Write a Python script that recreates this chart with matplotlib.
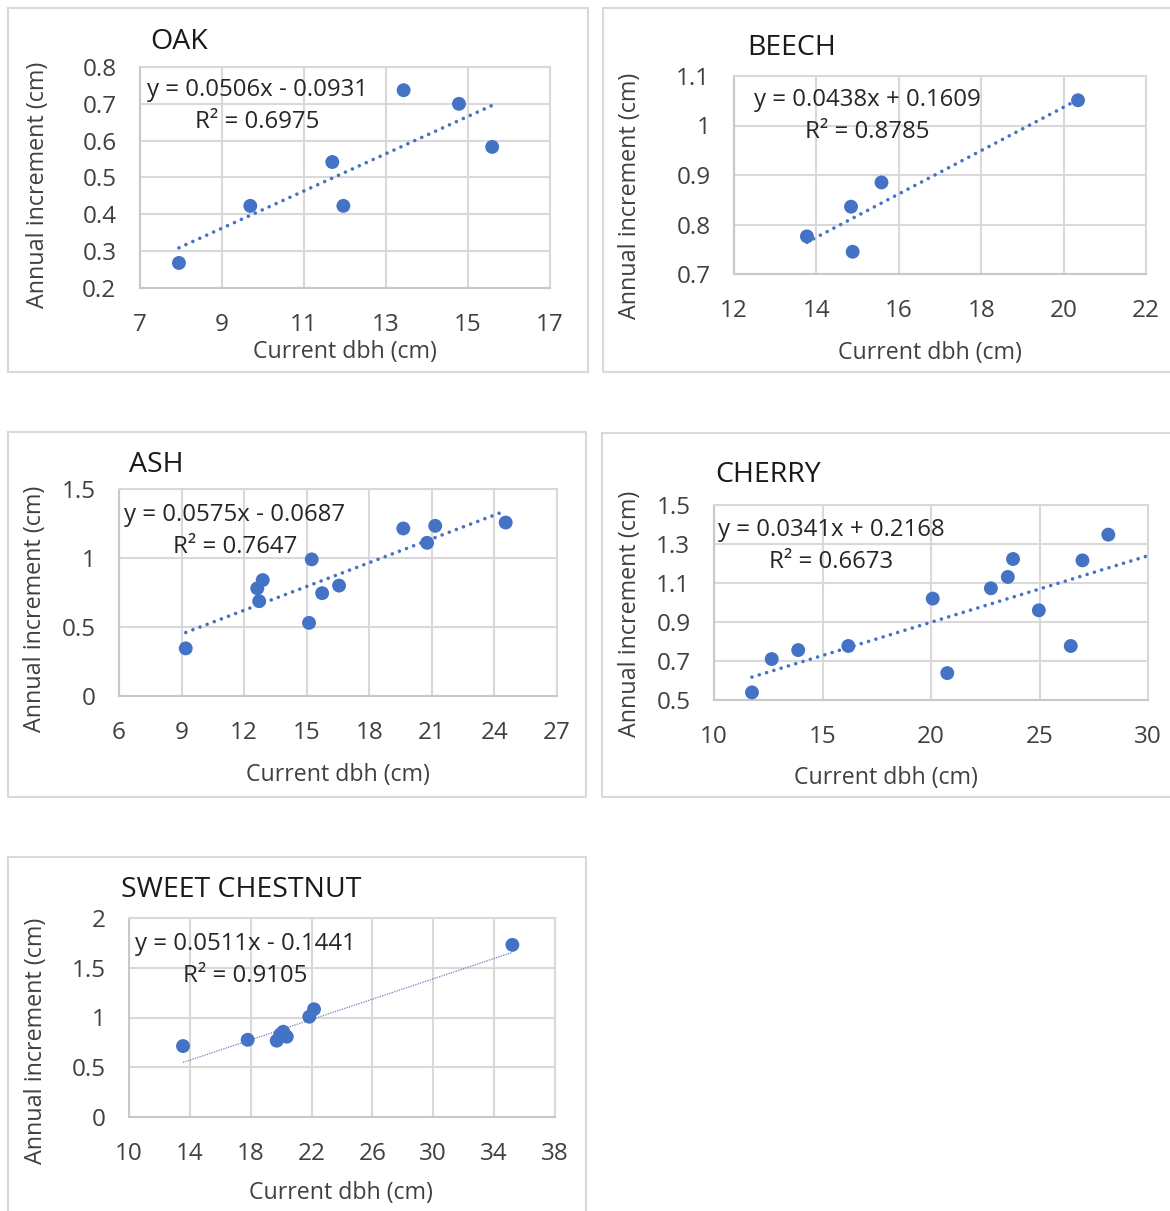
import matplotlib
matplotlib.use('Agg')
import matplotlib.pyplot as plt
from matplotlib.patches import Rectangle
import numpy as np

plt.rcParams['font.family'] = ['Open Sans', 'DejaVu Sans']

# ---------------- data ----------------
species = ['OAK', 'BEECH', 'ASH', 'CHERRY', 'SWEET CHESTNUT']

oak_dbh = [7.95, 9.69, 11.69, 11.96, 13.43, 14.78, 15.59]
oak_inc = [0.268, 0.423, 0.542, 0.423, 0.737, 0.700, 0.583]

beech_dbh = [13.77, 14.84, 14.88, 15.58, 20.35]
beech_inc = [0.776, 0.836, 0.745, 0.885, 1.051]

ash_dbh = [9.20, 12.63, 12.89, 12.72, 15.11, 15.24, 15.74, 16.55, 19.63, 20.77, 21.16, 24.54]
ash_inc = [0.345, 0.780, 0.840, 0.687, 0.530, 0.990, 0.745, 0.800, 1.214, 1.110, 1.233, 1.257]

cherry_dbh = [11.75, 12.66, 13.88, 16.19, 20.08, 20.75, 22.76, 23.54, 23.78, 24.97, 26.44, 26.98, 28.17]
cherry_inc = [0.539, 0.710, 0.756, 0.777, 1.020, 0.638, 1.073, 1.131, 1.223, 0.960, 0.777, 1.216, 1.348]

chestnut_dbh = [13.55, 17.80, 19.71, 19.95, 20.14, 20.37, 21.85, 22.16, 35.20]
chestnut_inc = [0.713, 0.776, 0.767, 0.830, 0.857, 0.807, 1.008, 1.083, 1.730]

slopes = [0.0506, 0.0438, 0.0575, 0.0341, 0.0511]
intercepts = [-0.0931, 0.1609, -0.0687, 0.2168, -0.1441]
r_squared = [0.6975, 0.8785, 0.7647, 0.6673, 0.9105]
forward_forecast = [0.0, 0.0, 0.0, 1.75, 0.0]

x_ticks = [
    [7, 9, 11, 13, 15, 17],
    [12, 14, 16, 18, 20, 22],
    [6, 9, 12, 15, 18, 21, 24, 27],
    [10, 15, 20, 25, 30],
    [10, 14, 18, 22, 26, 30, 34, 38],
]
y_ticks = [
    [0.2, 0.3, 0.4, 0.5, 0.6, 0.7, 0.8],
    [0.7, 0.8, 0.9, 1.0, 1.1],
    [0, 0.5, 1.0, 1.5],
    [0.5, 0.7, 0.9, 1.1, 1.3, 1.5],
    [0, 0.5, 1.0, 1.5, 2.0],
]
y_tick_labels = [
    ['0.2', '0.3', '0.4', '0.5', '0.6', '0.7', '0.8'],
    ['0.7', '0.8', '0.9', '1', '1.1'],
    ['0', '0.5', '1', '1.5'],
    ['0.5', '0.7', '0.9', '1.1', '1.3', '1.5'],
    ['0', '0.5', '1', '1.5', '2'],
]
x_label = 'Current dbh (cm)'
y_label = 'Annual increment (cm)'

all_dbh = [oak_dbh, beech_dbh, ash_dbh, cherry_dbh, chestnut_dbh]
all_inc = [oak_inc, beech_inc, ash_inc, cherry_inc, chestnut_inc]

# ---------------- layout (pixels) ----------------
W, H = 1170, 1211
DPI = 100
# axes: left, right, top, bottom
axes_px = [
    (140, 550, 67, 288),
    (734, 1146, 76, 274),
    (119, 557, 489, 696),
    (714, 1148, 505, 700),
    (129, 555, 918, 1117),
]
# panel frame: left, top, right, bottom
frame_px = [
    (8, 8, 588, 372),
    (603, 8, 1175, 372),
    (8, 432, 586, 797),
    (602, 433, 1175, 797),
    (8, 857, 586, 1220),
]
title_px = [(150, 42), (747, 48), (129, 465), (715, 475), (121, 890)]
eq_px = [(257, 90), (867, 100), (235, 515), (831, 530), (245, 944)]
eq_gap = 32
xlabel_px = [(345, 352), (930, 353), (338, 775), (886, 778), (341, 1193)]
ylabel_px = [(38, 185), (630, 196), (35, 609), (630, 614), (36, 1041)]

BLUE = '#4472C4'
GRID = '#d9d9d9'
TXT = '#404040'


def fx(px):
    return px / W


def fy(py):
    return 1 - py / H


fig = plt.figure(figsize=(W / DPI, H / DPI), dpi=DPI)

for i in range(5):
    l, t, r, b = frame_px[i]
    fig.patches.append(Rectangle((fx(l), fy(b)), (r - l) / W, (b - t) / H,
                                 transform=fig.transFigure, fill=False,
                                 edgecolor=GRID, linewidth=1.5, zorder=0))

for i in range(5):
    L, R, T, B = axes_px[i]
    ax = fig.add_axes([fx(L), fy(B), (R - L) / W, (B - T) / H])
    xt, yt = x_ticks[i], y_ticks[i]
    ax.set_xlim(xt[0], xt[-1])
    ax.set_ylim(yt[0], yt[-1])
    ax.set_xticks(xt)
    ax.set_xticklabels([str(v) for v in xt])
    ax.set_yticks(yt)
    ax.set_yticklabels(y_tick_labels[i])
    ax.grid(True, color=GRID, linewidth=1.5)
    ax.set_axisbelow(True)
    for s in ax.spines.values():
        s.set_color(GRID)
        s.set_linewidth(1.5)
    ax.spines['left'].set_color('#c8c8c8')
    ax.spines['bottom'].set_color('#c8c8c8')
    ax.tick_params(length=0, labelsize=17.5, colors=TXT)
    ax.tick_params(axis='x', pad=18)
    ax.tick_params(axis='y', pad=17)

    xs = np.array(all_dbh[i])
    ys = np.array(all_inc[i])
    x0, x1 = xs.min(), xs.max() + forward_forecast[i]
    tx = np.array([x0, x1])
    ty = slopes[i] * tx + intercepts[i]
    if i == 4:
        ax.plot(tx, ty, color='#6a7fb5', linewidth=0.9,
                linestyle=(0, (1, 1)), zorder=2)
    else:
        ax.plot(tx, ty, color=BLUE, linewidth=2.6,
                linestyle=(0, (0.01, 2.1)), dash_capstyle='round', zorder=2)
    ax.scatter(xs, ys, s=100, color=BLUE, edgecolors='none', zorder=3, clip_on=False)

    sign = '-' if intercepts[i] < 0 else '+'
    eq1 = f"y = {slopes[i]:.4f}x {sign} {abs(intercepts[i]):.4f}"
    eq2 = f"R² = {r_squared[i]:.4f}"
    ex, ey = eq_px[i]
    fig.text(fx(ex), fy(ey), eq1, ha='center', va='center',
             fontsize=17.3, color='#262626')
    fig.text(fx(ex), fy(ey + eq_gap), eq2, ha='center', va='center',
             fontsize=17.3, color='#262626')

    tpx, tpy = title_px[i]
    fig.text(fx(tpx), fy(tpy), species[i], ha='left', va='center',
             fontsize=20.5, color='#1a1a1a')
    xlx, xly = xlabel_px[i]
    fig.text(fx(xlx), fy(xly), x_label, ha='center', va='center',
             fontsize=16.7, color=TXT)
    ylx, yly = ylabel_px[i]
    fig.text(fx(ylx), fy(yly), y_label, ha='center', va='center',
             rotation=90, fontsize=16.8, color=TXT)

fig.savefig('out.png', dpi=DPI)
